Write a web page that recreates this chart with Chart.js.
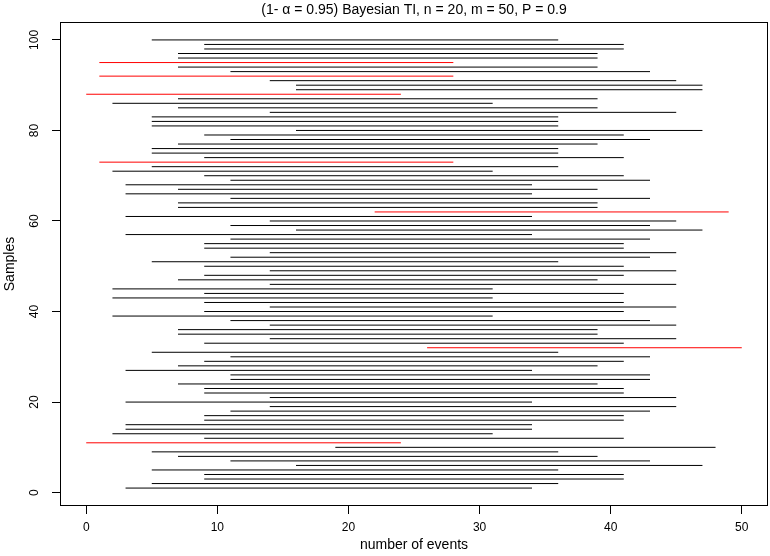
<!DOCTYPE html>
<html lang="en">
<head>
    <meta charset="utf-8">
    <title>Bayesian TI</title>
    <script src="https://cdn.jsdelivr.net/npm/chart.js"></script>
    <style>
        html, body {
            margin: 0;
            padding: 0;
            background: #ffffff;
        }
        #wrap {
            width: 770px;
            height: 556px;
        }
    </style>
</head>
<body>
<div id="wrap"><canvas id="chartTI"></canvas></div>

<script>
    // sample numbers 1..100, interval bounds
    const samples = [];
    for (let i = 1; i <= 100; i++) samples.push(i);

    const lowerBounds = [
        3, 5, 9, 9, 5, 16, 11, 7, 5, 19,
        0, 9, 2, 3, 3, 9, 9, 11, 14, 3,
        14, 9, 9, 7, 11, 11, 3, 7, 9, 11,
        5, 26, 9, 14, 7, 7, 14, 11, 2, 9,
        14, 9, 2, 9, 2, 14, 7, 9, 14, 9,
        5, 11, 14, 9, 9, 11, 3, 16, 11, 14,
        3, 22, 7, 7, 11, 3, 7, 3, 11, 9,
        2, 5, 1, 9, 5, 5, 7, 11, 9, 16,
        5, 5, 5, 14, 7, 2, 7, 0, 16, 16,
        14, 1, 11, 7, 1, 7, 7, 9, 9, 5
    ];
    const upperBounds = [
        34, 36, 41, 41, 36, 47, 43, 39, 36, 48,
        24, 41, 31, 34, 34, 41, 41, 43, 45, 34,
        45, 41, 41, 39, 43, 43, 34, 39, 41, 43,
        36, 50, 41, 45, 39, 39, 45, 43, 31, 41,
        45, 41, 31, 41, 31, 45, 39, 41, 45, 41,
        36, 43, 45, 41, 41, 43, 34, 47, 43, 45,
        34, 49, 39, 39, 43, 34, 39, 34, 43, 41,
        31, 36, 28, 41, 36, 36, 39, 43, 41, 47,
        36, 36, 36, 45, 39, 31, 39, 24, 47, 47,
        45, 28, 43, 39, 28, 39, 39, 41, 41, 36
    ];
    // samples whose interval is drawn in red
    const redSamples = [11, 32, 62, 73, 88, 92, 95];

    const xTicks = [0, 10, 20, 30, 40, 50];
    const yTicks = [0, 20, 40, 60, 80, 100];
    const titleText = '(1- \u03B1 = 0.95) Bayesian TI, n = 20, m = 50, P = 0.9';

    const font = "'Liberation Sans', Arial, sans-serif";

    const datasets = samples.map((s, i) => {
        const col = redSamples.includes(s) ? '#ff0000' : '#000000';
        return {
            data: [{x: lowerBounds[i], y: s}, {x: upperBounds[i], y: s}],
            showLine: true,
            borderColor: col,
            borderWidth: 1,
            pointRadius: 0,
            pointHoverRadius: 0
        };
    });

    // box round the plot region and the main title, R style
    const boxPlugin = {
        id: 'boxPlugin',
        afterDraw(chart) {
            const ctx = chart.ctx;
            const a = chart.chartArea;
            ctx.save();
            ctx.strokeStyle = '#000000';
            ctx.lineWidth = 1;
            ctx.strokeRect(a.left + 0.5, a.top + 0.5, a.right - a.left - 1, a.bottom - a.top - 1);
            ctx.fillStyle = '#000000';
            ctx.font = '14px ' + font;
            ctx.textAlign = 'center';
            ctx.textBaseline = 'middle';
            ctx.fillText(titleText, (a.left + a.right) / 2, 10);
            ctx.restore();
        }
    };

    new Chart(document.getElementById('chartTI'), {
        type: 'scatter',
        data: {datasets: datasets},
        options: {
            responsive: true,
            maintainAspectRatio: false,
            animation: false,
            events: [],
            layout: {padding: {top: 22, right: 2, left: 0, bottom: 0}},
            plugins: {
                legend: {display: false},
                tooltip: {enabled: false},
                title: {display: false}
            },
            scales: {
                x: {
                    type: 'linear',
                    min: -2,
                    max: 52,
                    afterBuildTicks: scale => { scale.ticks = xTicks.map(v => ({value: v})); },
                    afterFit: scale => { scale.height = 50; },
                    grid: {display: true, drawOnChartArea: false, drawTicks: true, tickLength: 8, color: '#000000'},
                    border: {display: false},
                    ticks: {color: '#000000', padding: 6, maxRotation: 0, font: {family: font, size: 12}},
                    title: {display: true, text: 'number of events', color: '#000000',
                        font: {family: font, size: 14}, padding: {top: 0, bottom: 2}}
                },
                y: {
                    type: 'linear',
                    min: -2.96,
                    max: 103.96,
                    afterBuildTicks: scale => { scale.ticks = yTicks.map(v => ({value: v})); },
                    afterFit: scale => { scale.width = 60; },
                    grid: {display: true, drawOnChartArea: false, drawTicks: true, tickLength: 8, color: '#000000'},
                    border: {display: false},
                    ticks: {color: '#000000', padding: 7, minRotation: 90, maxRotation: 90, crossAlign: 'center',
                        font: {family: font, size: 12}},
                    title: {display: true, text: 'Samples', color: '#000000',
                        font: {family: font, size: 14}, padding: {top: 2, bottom: 0}}
                }
            }
        },
        plugins: [boxPlugin]
    });
</script>
</body>
</html>
